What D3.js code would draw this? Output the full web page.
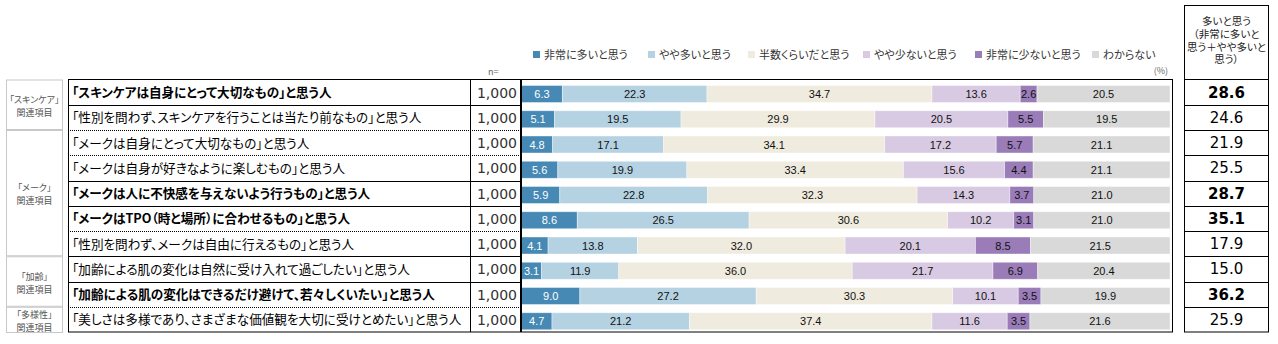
<!DOCTYPE html>
<html>
<head>
<meta charset="utf-8">
<script src="https://cdn.jsdelivr.net/npm/d3@7"></script>
<style>
  body { margin: 0; background: #fff; }
  svg text { font-feature-settings: "palt"; }
</style>
</head>
<body>
<svg id="chart" width="1278" height="344"></svg>
<script>
// answers (%), one array per answer option, in row order
var seriesNames = ["非常に多いと思う", "やや多いと思う", "半数くらいだと思う", "やや少ないと思う", "非常に少ないと思う", "わからない"];
var colors = ["#4689b5", "#b5d2e3", "#efebde", "#d8cae2", "#9a7cb8", "#d9d9d9"];

var labels = [
  "「スキンケアは自身にとって大切なもの」と思う人",
  "「性別を問わず、スキンケアを行うことは当たり前なもの」と思う人",
  "「メークは自身にとって大切なもの」と思う人",
  "「メークは自身が好きなように楽しむもの」と思う人",
  "「メークは人に不快感を与えないよう行うもの」と思う人",
  "「メークはTPO（時と場所）に合わせるもの」と思う人",
  "「性別を問わず、メークは自由に行えるもの」と思う人",
  "「加齢による肌の変化は自然に受け入れて過ごしたい」と思う人",
  "「加齢による肌の変化はできるだけ避けて、若々しくいたい」と思う人",
  "「美しさは多様であり、さまざまな価値観を大切に受けとめたい」と思う人"
];
var boldRows = [true, false, false, false, true, true, false, false, true, false];
var nValues = ["1,000", "1,000", "1,000", "1,000", "1,000", "1,000", "1,000", "1,000", "1,000", "1,000"];

var veryMany   = [6.3, 5.1, 4.8, 5.6, 5.9, 8.6, 4.1, 3.1, 9.0, 4.7];
var someMany   = [22.3, 19.5, 17.1, 19.9, 22.8, 26.5, 13.8, 11.9, 27.2, 21.2];
var half       = [34.7, 29.9, 34.1, 33.4, 32.3, 30.6, 32.0, 36.0, 30.3, 37.4];
var someFew    = [13.6, 20.5, 17.2, 15.6, 14.3, 10.2, 20.1, 21.7, 10.1, 11.6];
var veryFew    = [2.6, 5.5, 5.7, 4.4, 3.7, 3.1, 8.5, 6.9, 3.5, 3.5];
var dontKnow   = [20.5, 19.5, 21.1, 21.1, 21.0, 21.0, 21.5, 20.4, 19.9, 21.6];
var topTwo     = [28.6, 24.6, 21.9, 25.5, 28.7, 35.1, 17.9, 15.0, 36.2, 25.9];

// row separators: true = solid line, false = dotted (between row i and i+1)
var solidAfter = [true, false, false, true, true, false, true, true, false];

var groups = [
  {name: "「スキンケア」", sub: "関連項目", from: 0, to: 1},
  {name: "「メーク」", sub: "関連項目", from: 2, to: 6},
  {name: "「加齢」", sub: "関連項目", from: 7, to: 8},
  {name: "「多様性」", sub: "関連項目", from: 9, to: 9}
];

var headerLines = ["多いと思う", "（非常に多いと", "思う＋やや多いと", "思う）"];

var legendX = [533, 648, 748, 863, 975, 1092];

var jp = "'Noto Sans CJK JP', sans-serif";
var num = "'DejaVu Sans', Verdana, sans-serif";
var arial = "'Liberation Sans', Arial, sans-serif";

var svg = d3.select("#chart");

var rows = labels.map(function(l, i) {
  return {i: i, s0: veryMany[i], s1: someMany[i], s2: half[i], s3: someFew[i], s4: veryFew[i], s5: dontKnow[i]};
});
var keys = ["s0", "s1", "s2", "s3", "s4", "s5"];

var y = d3.scaleBand().domain(d3.range(labels.length)).range([79.5, 332]);
var x = d3.scaleLinear().domain([0, 1]).range([521.5, 1170]);

var stacked = d3.stack().keys(keys).offset(d3.stackOffsetExpand)(rows);

// legend
var leg = svg.append("g");
seriesNames.forEach(function(name, k) {
  leg.append("rect").attr("x", legendX[k]).attr("y", 51).attr("width", 7).attr("height", 7)
    .attr("fill", colors[k]);
  leg.append("text").attr("x", legendX[k] + 11).attr("y", 59)
    .attr("font-family", jp).attr("font-size", 11).attr("fill", "#333").text(name);
});
svg.append("text").attr("x", 1168).attr("y", 74).attr("text-anchor", "end")
  .attr("font-family", jp).attr("font-size", 9).attr("fill", "#666").text("(%)");
svg.append("text").attr("x", 488).attr("y", 75)
  .attr("font-family", jp).attr("font-size", 9).attr("fill", "#666").text("n=");

// group column
var gcol = svg.append("g");
groups.forEach(function(g) {
  var top = y(g.from), bot = y(g.to) + y.bandwidth();
  if (g.to === labels.length - 1) bot += 1;
  gcol.append("rect").attr("x", 6.5).attr("y", top + 0.5).attr("width", 56).attr("height", bot - top - 1)
    .attr("fill", "none").attr("stroke", "#c8c8c8");
  var mid = (top + bot) / 2;
  gcol.append("text").attr("x", 34.5).attr("y", mid - 2).attr("text-anchor", "middle")
    .attr("font-family", jp).attr("font-size", 9).attr("fill", "#555").text(g.name);
  gcol.append("text").attr("x", 34.5).attr("y", mid + 11).attr("text-anchor", "middle")
    .attr("font-family", jp).attr("font-size", 9).attr("fill", "#555").text(g.sub);
});

// label table
var tbl = svg.append("g");
labels.forEach(function(l, i) {
  var cy = y(i) + y.bandwidth() / 2;
  tbl.append("text").attr("x", 72).attr("y", cy + 5)
    .attr("font-family", jp).attr("font-size", 12.6)
    .attr("font-weight", boldRows[i] ? "bold" : "normal").attr("fill", "#000").text(l);
  tbl.append("text").attr("x", 517).attr("y", cy + 5.5).attr("text-anchor", "end")
    .attr("font-family", num).attr("font-size", 14).attr("fill", "#333").text(nValues[i]);
});
solidAfter.forEach(function(s, i) {
  var ly = Math.round(y(i + 1)) + 0.5;
  tbl.append("line").attr("x1", 68).attr("x2", 521).attr("y1", ly).attr("y2", ly)
    .attr("stroke", "#000").attr("stroke-width", 1)
    .attr("stroke-dasharray", s ? null : "1,1");
});
tbl.append("rect").attr("x", 68.5).attr("y", 79.5).attr("width", 452).attr("height", 252.5)
  .attr("fill", "none").attr("stroke", "#000");
tbl.append("line").attr("x1", 470.5).attr("x2", 470.5).attr("y1", 79.5).attr("y2", 332)
  .attr("stroke", "#000");

// bars
var bars = svg.append("g");
stacked.forEach(function(layer, k) {
  var g = bars.append("g");
  g.selectAll("rect").data(layer).enter().append("rect")
    .attr("x", function(d) { return x(d[0]); })
    .attr("y", function(d, i) { return y(i) + 6; })
    .attr("width", function(d) { return x(d[1]) - x(d[0]); })
    .attr("height", 17)
    .attr("fill", colors[k])
    .attr("stroke", "#fff").attr("stroke-opacity", 0.5).attr("stroke-width", 0.8);
  g.selectAll("text").data(layer).enter().append("text")
    .attr("x", function(d) { return (x(d[0]) + x(d[1])) / 2; })
    .attr("y", function(d, i) { return y(i) + 6 + 12.5; })
    .attr("text-anchor", "middle")
    .attr("font-family", arial).attr("font-size", 11)
    .attr("fill", k === 0 ? "#fff" : "#111")
    .text(function(d) { return d.data[keys[k]].toFixed(1); });
});
svg.append("rect").attr("x", 521.5).attr("y", 79.5).attr("width", 651).attr("height", 252.5)
  .attr("fill", "none").attr("stroke", "#000");

// right column
var rc = svg.append("g");
rc.append("rect").attr("x", 1184.5).attr("y", 5.5).attr("width", 84).attr("height", 326.5)
  .attr("fill", "none").attr("stroke", "#000");
rc.append("line").attr("x1", 1184.5).attr("x2", 1268.5).attr("y1", 79.5).attr("y2", 79.5).attr("stroke", "#000");
headerLines.forEach(function(t, j) {
  rc.append("text").attr("x", 1226.5).attr("y", 25 + j * 12.8).attr("text-anchor", "middle")
    .attr("font-family", jp).attr("font-size", 10.5).attr("fill", "#222").text(t);
});
topTwo.forEach(function(v, i) {
  var cy = y(i) + y.bandwidth() / 2;
  rc.append("text").attr("x", 1226.5).attr("y", cy + 5.5).attr("text-anchor", "middle")
    .attr("font-family", num).attr("font-size", 15)
    .attr("font-weight", boldRows[i] ? "bold" : "normal").attr("fill", "#000").text(v.toFixed(1));
  if (i < topTwo.length - 1) {
    var ly = Math.round(y(i + 1)) + 0.5;
    rc.append("line").attr("x1", 1184.5).attr("x2", 1268.5).attr("y1", ly).attr("y2", ly).attr("stroke", "#000");
  }
});
</script>
</body>
</html>
